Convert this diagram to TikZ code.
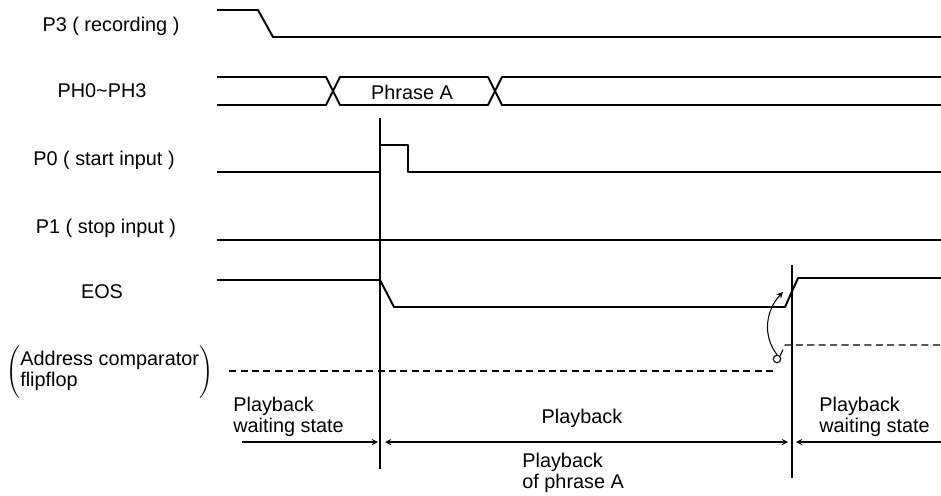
\documentclass[tikz,border=0pt]{standalone}
\usepackage{fontspec}
\setmainfont{Liberation Sans}
\usetikzlibrary{positioning}

\begin{document}
\begin{tikzpicture}[x=0.2mm,y=-0.2mm,
  sig/.style={line width=1.1pt,line join=round},
  marker/.style={line width=0.8pt},
  ffline/.style={line width=0.6pt,dash pattern=on 4pt off 2.5pt},
  dim/.style={->,>=stealth,line width=0.6pt},
  lbl/.style={inner sep=0pt,font=\fontsize{11.3}{12}\selectfont},
  txt/.style={inner sep=0pt,align=left,font=\fontsize{11.3}{11.6}\selectfont}
]
  \useasboundingbox (0,0) rectangle (941,495);

  % signal names
  \node[lbl] (p3lbl)  at (111,26)  {P3 ( recording )};
  \node[lbl] (phlbl)  at (102,91)  {PH0\textasciitilde PH3};
  \node[lbl] (p0lbl)  at (104,160) {P0 ( start input )};
  \node[lbl] (p1lbl)  at (106,228) {P1 ( stop input )};
  \node[lbl] (eoslbl) at (102,292) {EOS};
  \node[txt,anchor=west] (fflbl) at (6,372)
    {$\Biggl(\vcenter{\hbox{\begin{tabular}{@{}l@{}}Address comparator\\flipflop\end{tabular}}}\Biggr)$};

  % waveforms
  \draw[sig] (217,10) -- (258,10) -- (273,37) -- (941,37);
  \draw[sig] (217,77) -- (326,77) -- (340,105) -- (488,105) -- (502,77) -- (941,77);
  \draw[sig] (217,105) -- (326,105) -- (340,77) -- (488,77) -- (502,105) -- (941,105);
  \node[lbl] (phrase) at (412,92) {Phrase A};
  \draw[sig] (217,172) -- (380,172) -- (380,145) -- (408,145) -- (408,172) -- (941,172);
  \draw[sig] (217,240) -- (941,240);
  \draw[sig] (217,280) -- (380,280) -- (394,307) -- (785,307) -- (798,278) -- (941,278);

  % address comparator flipflop
  \node[circle,draw,line width=0.6pt,inner sep=0pt,minimum size=7.5*0.2mm] (ffpt) at (777,359) {};
  \draw[ffline] (773,371) -- (225,371);
  \draw[ffline] (ffpt.north east) -- (785,345) -- (941,345);
  \coordinate (eosarr) at (783,292);
  \draw[dim] (ffpt.north) .. controls (762,335) and (766,310) .. (eosarr);

  % timing markers
  \coordinate (t1top) at (380,118);
  \coordinate (t1bot) at (380,469);
  \coordinate (t2top) at (792,265);
  \coordinate (t2bot) at (792,478);
  \draw[marker] (t1top) -- (t1bot);
  \draw[marker] (t2top) -- (t2bot);

  % periods
  \coordinate (wait1) at (242,442);
  \coordinate (play1) at (378,442);
  \coordinate (play2) at (385,442);
  \coordinate (play3) at (788,442);
  \coordinate (wait2) at (796,442);
  \coordinate (wait3) at (941,442);
  \draw[dim] (wait1) -- (play1);
  \draw[dim,<->] (play2) -- (play3);
  \draw[dim,<-] (wait2) -- (wait3);

  \node[txt,anchor=west] (waitA) at (233,417) {Playback\\waiting state};
  \node[txt] (playlbl) at (582,418) {Playback};
  \node[txt,anchor=west] (waitB) at (819,417) {Playback\\waiting state};
  \node[txt,anchor=west] (phraselbl) at (522,473) {Playback\\of phrase A};
\end{tikzpicture}
\end{document}
